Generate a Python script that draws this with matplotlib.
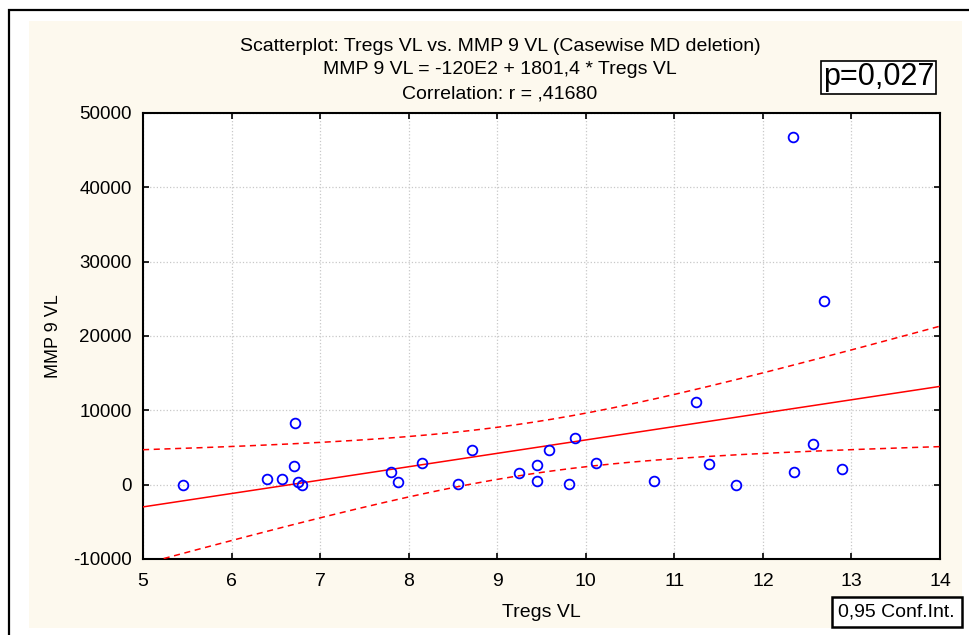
import numpy as np
import matplotlib.pyplot as plt
from matplotlib.patches import Rectangle

# values
tregs_vl = [5.45, 6.40, 6.57, 6.72, 6.70, 6.75, 6.79, 7.80, 7.88, 8.15, 8.56, 8.71, 9.25,
            9.45, 9.45, 9.58, 9.81, 9.88, 10.11, 10.77, 11.24, 11.39, 11.70, 12.35, 12.57,
            12.89, 12.34, 12.69]
mmp9_vl = [0, 810, 810, 8340, 2560, 400, 0, 1700, 310, 2920, 130, 4660, 1570,
           2600, 500, 4660, 130, 6230, 2960, 500, 11070, 2780, 0, 1750, 5420,
           2060, 46780, 24750]
intercept = -12000
slope = 1801.4

x_ticks = [5, 6, 7, 8, 9, 10, 11, 12, 13, 14]
y_ticks = [-10000, 0, 10000, 20000, 30000, 40000, 50000]

plt.rcParams['font.family'] = ['Liberation Sans', 'DejaVu Sans']
plt.rcParams['axes.unicode_minus'] = False

x = np.array(tregs_vl)
y = np.array(mmp9_vl)
n = len(x)

# 95% confidence band of the regression line
xs = np.linspace(5, 14, 200)
fit = intercept + slope * xs
res = y - (intercept + slope * x)
s = np.sqrt(np.sum(res ** 2) / (n - 2))
sxx = np.sum((x - x.mean()) ** 2)
t = 2.056
hw = t * s * np.sqrt(1.0 / n + (xs - x.mean()) ** 2 / sxx)

fig = plt.figure(figsize=(9.69, 6.35), dpi=100)
fig.patch.set_facecolor('white')

# cream panel and outer frame
fig.patches.append(Rectangle((0.0299, 0.011), 0.963, 0.956, transform=fig.transFigure,
                             facecolor='#fdf9ee', edgecolor='none', zorder=-2))
fig.patches.append(Rectangle((0.0088, -0.1), 1.2, 1.084, transform=fig.transFigure,
                             facecolor='none', edgecolor='black', lw=1.6, zorder=-1))

ax = fig.add_axes([0.1476, 0.1197, 0.8225, 0.7024])
ax.set_facecolor('white')

ax.plot(xs, fit, color='red', lw=1.1, zorder=3)
ax.plot(xs, fit + hw, color='red', lw=1.1, ls=(0, (4, 3)), zorder=3)
ax.plot(xs, fit - hw, color='red', lw=1.1, ls=(0, (4, 3)), zorder=3)
ax.plot(x, y, 'o', ms=7, mfc='none', mec='blue', mew=1.3, zorder=4)

ax.set_xlim(5, 14)
ax.set_ylim(-10000, 50000)
ax.set_xticks(x_ticks)
ax.set_yticks(y_ticks)
ax.grid(True, color='#c8c8c8', ls=':', lw=0.9)
ax.tick_params(direction='in', length=4, width=1.2, top=True, right=True,
               labelsize=13.5, pad=8)
ax.tick_params(axis='x', labelsize=14, pad=10)
for sp in ax.spines.values():
    sp.set_linewidth(1.5)

ax.set_xlabel('Tregs VL', fontsize=14, labelpad=10)
ax.set_ylabel('MMP 9 VL', fontsize=13, labelpad=8)

fig.text(0.516, 0.926, 'Scatterplot: Tregs VL vs. MMP 9 VL (Casewise MD deletion)',
         ha='center', va='center', fontsize=14)
fig.text(0.516, 0.890, 'MMP 9 VL = -120E2 + 1801,4 * Tregs VL',
         ha='center', va='center', fontsize=14)
fig.text(0.516, 0.852, 'Correlation: r = ,41680',
         ha='center', va='center', fontsize=14)

fig.text(0.907, 0.878, 'p=0,027', ha='center', va='center', fontsize=22,
         bbox=dict(boxstyle='square,pad=0.06', facecolor='white', edgecolor='black', lw=1.2))
fig.text(0.9255, 0.036, '0,95 Conf.Int.', ha='center', va='center', fontsize=14,
         bbox=dict(boxstyle='square,pad=0.35', facecolor='white', edgecolor='black', lw=1.8))

fig.savefig('out.png', dpi=100)
